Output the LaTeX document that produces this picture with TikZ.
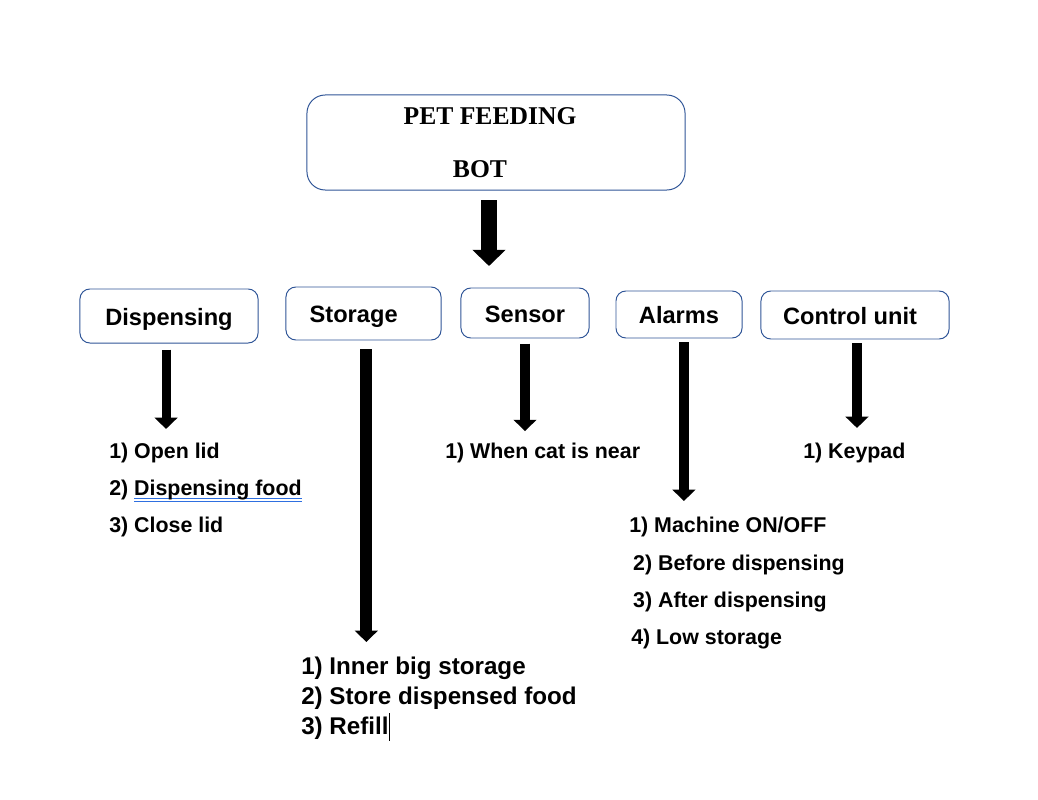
\documentclass[tikz,border=0pt]{standalone}
\usepackage{fontspec}
\setmainfont{Liberation Sans}
\newfontfamily\titlefont{Liberation Serif}
\usetikzlibrary{arrows.meta, calc}
\definecolor{boxblue}{HTML}{2F5597}
\definecolor{gramblue}{HTML}{2E6FE0}

% grammar-check double underline
\newsavebox\grambox
\newcommand{\gramline}[1]{\sbox\grambox{#1}%
  \rlap{\color{gramblue}\rule[-2.4pt]{\wd\grambox}{0.6pt}}%
  \rlap{\color{gramblue}\rule[-4.0pt]{\wd\grambox}{0.6pt}}%
  \usebox\grambox}

\begin{document}
\begin{tikzpicture}[
    x=0.025cm, y=-0.025cm,
    frame/.style={draw=boxblue, line width=0.7pt, rounded corners=7pt, inner sep=0pt},
    part/.style={frame, text height=13.1pt, text depth=0pt,
        font=\fontsize{16.8}{20}\selectfont\bfseries},
    items/.style={anchor=north west, align=left, inner sep=0pt,
        font=\fontsize{15.2}{26.3}\selectfont\bfseries},
    feed/.style={line width=7pt, -{Triangle[width=16pt,length=8pt]}}
]
    \useasboundingbox (0,0) rectangle (1038,800);

    % Main box
    \node[frame, minimum width=9.45cm, minimum height=2.375cm, rounded corners=13pt, align=center,
        font=\titlefont\fontsize{18.2}{37.7}\selectfont\bfseries] (bot) at (496,142.5)
        {PET FEEDING\hspace*{8.5pt}\\BOT\hspace*{22.8pt}};
    \coordinate (split) at (489,266);
    \draw[feed, line width=10.7pt, -{Triangle[width=22.8pt,length=11.4pt]}, shorten <=7pt] (bot.south -| split) -- (split);

    % Parts
    \node[part, minimum width=4.45cm, minimum height=1.35cm] (disp) at (169,316) {Dispensing};
    \node[part, minimum width=3.875cm, minimum height=1.325cm] (stor) at (363.5,313.5) {Storage\hspace*{14pt}};
    \node[part, minimum width=3.2cm, minimum height=1.25cm] (sens) at (525,313) {Sensor};
    \node[part, minimum width=3.15cm, minimum height=1.175cm] (alarm) at (679,314.5) {Alarms};
    \node[part, minimum width=4.7cm, minimum height=1.2cm] (ctrl) at (855,315) {Control unit\hspace*{7pt}};

    % Lists
    \node[items] (displist) at (109,443) {1) Open lid\\2) \gramline{Dispensing food}\\3) Close lid};
    \node[items, font=\fontsize{17.2}{21.3}\selectfont\bfseries] (storlist) at (301,657)
        {1) Inner big storage\\2) Store dispensed food\\3) Refill\rule[-0.25em]{0.6pt}{1.15em}};
    \node[items] (senslist) at (445,443) {1) When cat is near};
    \node[items, font=\fontsize{15.2}{26.5}\selectfont\bfseries] (alarmlist) at (629,517)
        {1) Machine ON/OFF\\\hspace*{2.8pt}2) Before dispensing\\\hspace*{2.8pt}3) After dispensing\\\hspace*{1.4pt}4) Low storage};
    \node[items] (ctrllist) at (803,443) {1) Keypad};

    % Arrows
    \draw[feed, line width=6.4pt, shorten <=4.3pt, shorten >=10pt] ([xshift=-2.1pt]disp.south) -- ([xshift=-2.1pt]disp.south |- displist.north);
    \draw[feed, line width=8.5pt, shorten <=6.4pt, shorten >=10.7pt] ([xshift=2pt]stor.south) -- ([xshift=2pt]stor.south |- storlist.north);
    \draw[feed, shorten <=3.6pt, shorten >=8.5pt] (sens.south) -- (sens.south |- senslist.north);
    \draw[feed, shorten <=2.8pt, shorten >=11.4pt] ([xshift=3.5pt]alarm.south) -- ([xshift=3.5pt]alarm.south |- alarmlist.north);
    \draw[feed, shorten <=2.8pt, shorten >=10.7pt] ([xshift=1.4pt]ctrl.south) -- ([xshift=1.4pt]ctrl.south |- ctrllist.north);

\end{tikzpicture}
\end{document}
